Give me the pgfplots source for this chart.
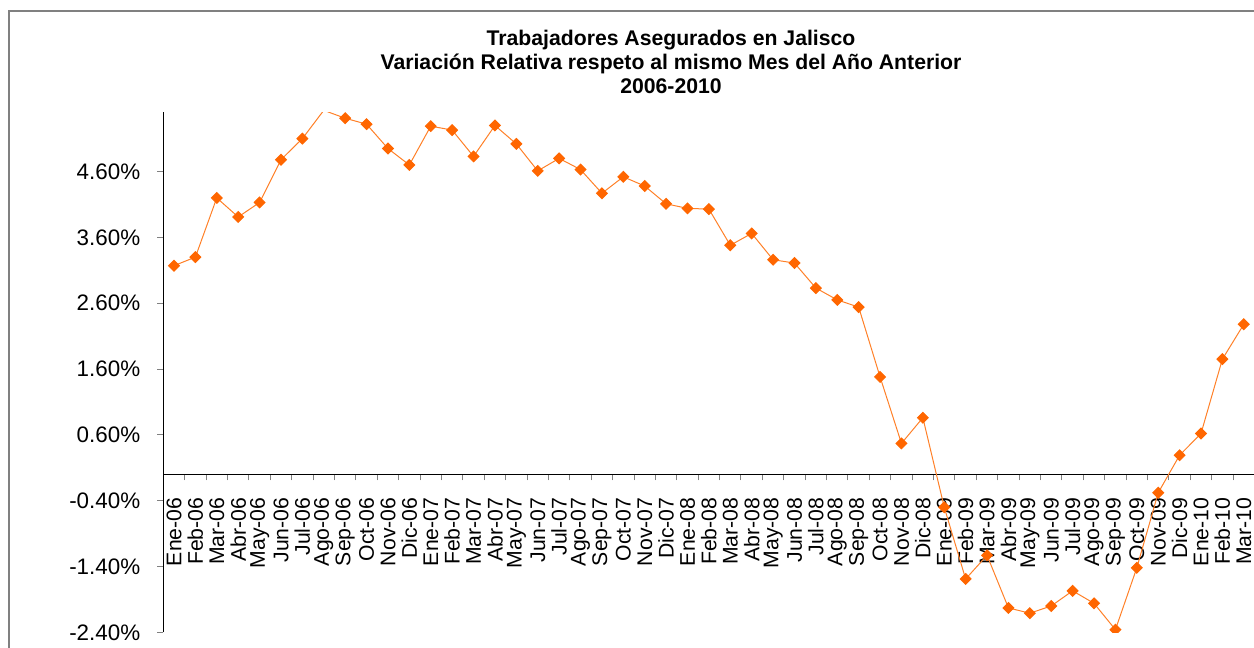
\documentclass[border=0pt]{standalone}
\usepackage{fontspec}
\setmainfont{Liberation Sans}
\usepackage{pgfplots}
\pgfplotsset{compat=1.18}
\definecolor{serie}{RGB}{255,102,0}
\definecolor{linea}{RGB}{255,128,40}
\definecolor{marco}{RGB}{128,128,128}
\pgfplotstableread{
x y
0 3.17
1 3.30
2 4.20
3 3.91
4 4.13
5 4.78
6 5.10
7 5.53
8 5.41
9 5.32
10 4.95
11 4.70
12 5.29
13 5.23
14 4.83
15 5.30
16 5.02
17 4.61
18 4.80
19 4.63
20 4.27
21 4.52
22 4.38
23 4.11
24 4.04
25 4.03
26 3.48
27 3.66
28 3.26
29 3.21
30 2.83
31 2.65
32 2.54
33 1.48
34 0.47
35 0.86
36 -0.50
37 -1.59
38 -1.23
39 -2.03
40 -2.11
41 -2.00
42 -1.77
43 -1.96
44 -2.36
45 -1.42
46 -0.28
47 0.29
48 0.62
49 1.75
50 2.28
}\datos
\begin{document}
\begin{tikzpicture}
\useasboundingbox (0pt,0pt) rectangle (627pt,324pt);
\draw[line width=1pt, color=marco] (4.5pt,-5pt) -- (4.5pt,318.5pt) -- (640pt,318.5pt);
\node[font=\fontsize{10.6}{12}\selectfont\bfseries, anchor=base] at (335.5pt,301pt) {Trabajadores Asegurados en Jalisco};
\node[font=\fontsize{10.6}{12}\selectfont\bfseries, anchor=base] at (335.5pt,289pt) {Variación Relativa respeto al mismo Mes del Año Anterior};
\node[font=\fontsize{10.6}{12}\selectfont\bfseries, anchor=base] at (335.5pt,277pt) {2006-2010};
\begin{axis}[
  scale only axis,
  width=545.6pt, height=260pt,
  at={(81.65pt,7.85pt)}, anchor=south west,
  xmin=-0.5, xmax=50.5, ymin=-2.4, ymax=5.5,
  axis x line*=middle, axis y line*=left,
  axis line style={black, line width=0.5pt},
  tick align=outside,
  major tick length=3pt, minor tick length=3pt,
  ytick={-2.4,-1.4,-0.4,0.6,1.6,2.6,3.6,4.6},
  yticklabels={-2.40\%,-1.40\%,-0.40\%,0.60\%,1.60\%,2.60\%,3.60\%,4.60\%},
  yticklabel style={font=\fontsize{11.2}{12}\selectfont, xshift=-5pt},
  ytick style={marco, line width=0.5pt},
  xtick={0,1,...,50},
  minor xtick={0.5,1.5,...,49.5},
  major x tick style={draw=none},
  minor x tick style={marco, line width=0.5pt},
  xticklabels={Ene-06,Feb-06,Mar-06,Abr-06,May-06,Jun-06,Jul-06,Ago-06,Sep-06,Oct-06,Nov-06,Dic-06,
    Ene-07,Feb-07,Mar-07,Abr-07,May-07,Jun-07,Jul-07,Ago-07,Sep-07,Oct-07,Nov-07,Dic-07,
    Ene-08,Feb-08,Mar-08,Abr-08,May-08,Jun-08,Jul-08,Ago-08,Sep-08,Oct-08,Nov-08,Dic-08,
    Ene-09,Feb-09,Mar-09,Abr-09,May-09,Jun-09,Jul-09,Ago-09,Sep-09,Oct-09,Nov-09,Dic-09,
    Ene-10,Feb-10,Mar-10},
  xticklabel style={font=\fontsize{10.6}{12}\selectfont, yshift=-7.5pt, rotate=90, anchor=east, inner sep=1pt},
  clip marker paths=true,
]
\addplot[color=linea, line width=0.5pt, mark=square*, mark size=1.9pt,
  mark options={rotate=45, fill=serie, draw=serie}] table[x=x,y=y] {\datos};
\end{axis}
\end{tikzpicture}
\end{document}
